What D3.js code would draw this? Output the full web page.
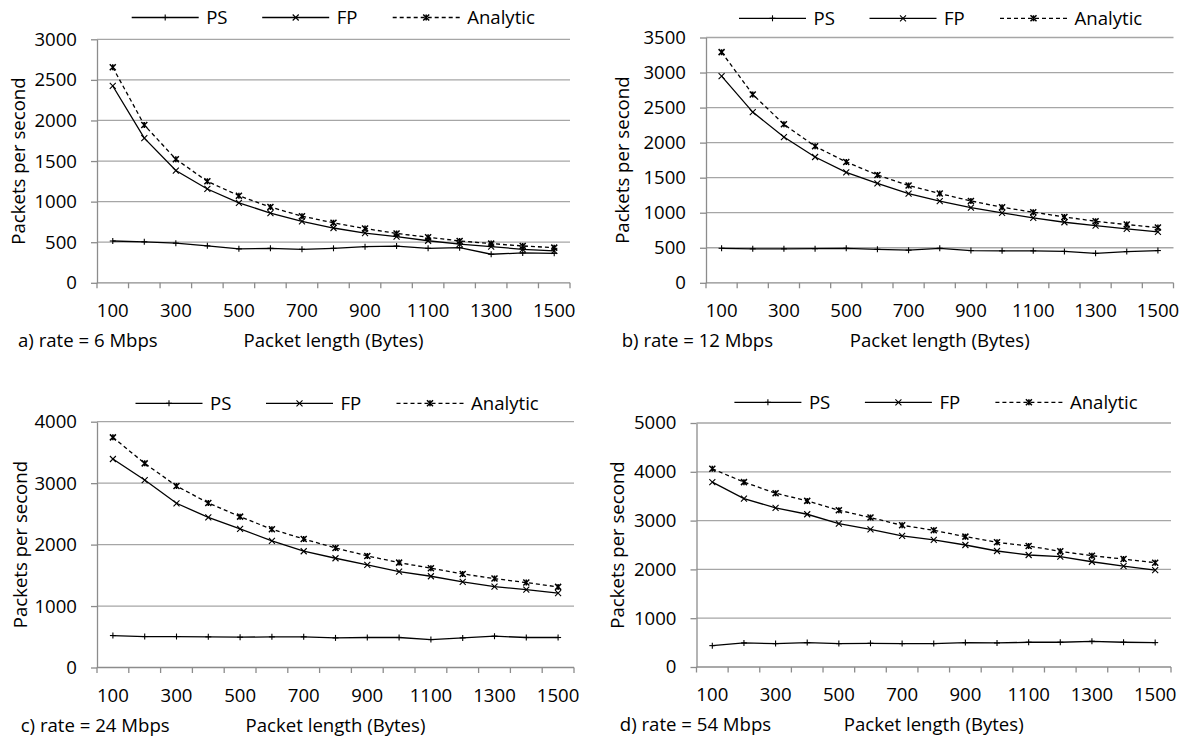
<!DOCTYPE html>
<html>
<head>
<meta charset="utf-8">
<script src="https://cdn.jsdelivr.net/npm/d3@7"></script>
<style>
  html, body { margin: 0; padding: 0; background: #fff; }
  svg { display: block; }
  text { font-family: "Open Sans", "Liberation Sans", sans-serif; fill: #000; }
</style>
</head>
<body>
<svg id="chart" width="1189" height="740"></svg>
<script>
// ---------- data ----------
const categories = [100, 200, 300, 400, 500, 600, 700, 800, 900, 1000, 1100, 1200, 1300, 1400, 1500];
const xTickLabels = [100, 300, 500, 700, 900, 1100, 1300, 1500];
const seriesNames = ["PS", "FP", "Analytic"];

const psA = [515, 505, 488, 455, 418, 425, 413, 425, 445, 452, 425, 433, 352, 368, 363];
const fpA = [2425, 1783, 1383, 1156, 986, 858, 757, 675, 612, 570, 518, 476, 446, 413, 393];
const anA = [2655, 1944, 1523, 1250, 1073, 933, 821, 739, 669, 608, 561, 516, 483, 454, 433];

const psB = [492, 485, 485, 487, 492, 478, 466, 492, 460, 456, 456, 448, 420, 446, 460];
const fpB = [2949, 2436, 2080, 1795, 1577, 1420, 1273, 1164, 1073, 997, 926, 864, 817, 770, 727];
const anB = [3291, 2688, 2261, 1947, 1724, 1539, 1387, 1273, 1168, 1078, 1007, 940, 878, 831, 788];

const psC = [520, 504, 504, 499, 493, 499, 499, 482, 488, 488, 455, 482, 509, 488, 488];
const fpC = [3393, 3051, 2672, 2444, 2255, 2060, 1892, 1778, 1669, 1561, 1485, 1393, 1317, 1268, 1209];
const anC = [3745, 3322, 2954, 2677, 2455, 2249, 2092, 1946, 1816, 1707, 1615, 1523, 1447, 1382, 1312];

const psD = [438, 493, 479, 500, 479, 486, 479, 479, 500, 493, 507, 507, 527, 507, 500];
const fpD = [3788, 3452, 3260, 3130, 2938, 2822, 2685, 2603, 2500, 2377, 2295, 2260, 2157, 2068, 1986];
const anD = [4062, 3788, 3562, 3404, 3212, 3062, 2904, 2801, 2671, 2555, 2479, 2370, 2281, 2212, 2137];

const yTicksA = [0, 500, 1000, 1500, 2000, 2500, 3000];
const yTicksB = [0, 500, 1000, 1500, 2000, 2500, 3000, 3500];
const yTicksC = [0, 1000, 2000, 3000, 4000];
const yTicksD = [0, 1000, 2000, 3000, 4000, 5000];

const captions = ["a) rate = 6 Mbps", "b) rate = 12 Mbps", "c) rate = 24 Mbps", "d) rate = 54 Mbps"];
const xTitle = "Packet length (Bytes)";
const yTitle = "Packets per second";

// ---------- layout ----------
const panels = [
  { ps: psA, fp: fpA, an: anA, ticks: yTicksA, caption: captions[0],
    left: 97, right: 570, top: 39.3, bottom: 282.8, capX: 18, yTitleX: 18, legX: 131.7, legY: 17.5 },
  { ps: psB, fp: fpB, an: anB, ticks: yTicksB, caption: captions[1],
    left: 706, right: 1173.5, top: 37.5, bottom: 282.8, capX: 621.7, yTitleX: 622.5, legX: 739, legY: 18.3 },
  { ps: psC, fp: fpC, an: anC, ticks: yTicksC, caption: captions[2],
    left: 97, right: 574, top: 421.7, bottom: 667.5, capX: 20.7, yTitleX: 20.7, legX: 135.5, legY: 403.3 },
  { ps: psD, fp: fpD, an: anD, ticks: yTicksD, caption: captions[3],
    left: 696.5, right: 1171, top: 423, bottom: 667, capX: 619.8, yTitleX: 617.7, legX: 734.4, legY: 402.3 }
];

const FONT = 18.6;
const GRID = "#a6a6a6";
const AXIS = "#8c8c8c";

const svg = d3.select("#chart");

function marker(g, type, cx, cy) {
  const s = 3;
  if (type === "PS") {
    g.append("line").attr("x1", cx).attr("x2", cx).attr("y1", cy - s).attr("y2", cy + s)
      .attr("stroke", "#000").attr("stroke-width", 1.1);
    g.append("line").attr("x1", cx - s).attr("x2", cx + s).attr("y1", cy).attr("y2", cy)
      .attr("stroke", "#000").attr("stroke-width", 1.1);
  } else if (type === "FP") {
    g.append("path").attr("d", `M${cx - s},${cy - s}L${cx + s},${cy + s}M${cx - s},${cy + s}L${cx + s},${cy - s}`)
      .attr("stroke", "#000").attr("stroke-width", 1.1).attr("fill", "none");
  } else {
    g.append("path").attr("d", `M${cx - s},${cy - s}L${cx + s},${cy + s}M${cx - s},${cy + s}L${cx + s},${cy - s}M${cx},${cy - s}L${cx},${cy + s}`)
      .attr("stroke", "#000").attr("stroke-width", 1.5).attr("fill", "none");
  }
}

panels.forEach(p => {
  const g = svg.append("g");
  const x = d3.scaleBand().domain(categories).range([p.left, p.right]).padding(0);
  const y = d3.scaleLinear().domain([0, d3.max(p.ticks)]).range([p.bottom, p.top]);
  const cx = c => x(c) + x.bandwidth() / 2;

  // gridlines
  g.append("g").selectAll("line").data(p.ticks.filter(t => t > 0)).join("line")
    .attr("x1", p.left).attr("x2", p.right)
    .attr("y1", d => y(d)).attr("y2", d => y(d))
    .attr("stroke", GRID).attr("stroke-width", 1.3);

  // y axis
  const ya = g.append("g").attr("transform", `translate(${p.left},0)`)
    .call(d3.axisLeft(y).tickValues(p.ticks).tickFormat(d3.format("d"))
      .tickSize(6).tickSizeOuter(0).tickPadding(14));
  ya.select(".domain").attr("stroke", AXIS).attr("stroke-width", 1.3);
  ya.selectAll(".tick line").attr("stroke", AXIS).attr("stroke-width", 1.3);
  ya.selectAll(".tick text").attr("font-size", FONT).attr("font-family", "Open Sans").attr("fill", "#000");

  // x axis
  const xa = g.append("g").attr("transform", `translate(0,${p.bottom})`)
    .call(d3.axisBottom(x).tickValues(xTickLabels).tickSize(0).tickPadding(21));
  xa.select(".domain").remove();
  xa.selectAll(".tick text").attr("font-size", FONT).attr("font-family", "Open Sans").attr("fill", "#000");
  g.append("line").attr("x1", p.left).attr("x2", p.right).attr("y1", p.bottom).attr("y2", p.bottom)
    .attr("stroke", AXIS).attr("stroke-width", 1.3);
  const bounds = categories.map(c => x(c)).concat([x.range()[1]]);
  g.append("g").selectAll("line").data(bounds).join("line")
    .attr("x1", d => d).attr("x2", d => d)
    .attr("y1", p.bottom).attr("y2", p.bottom + 5.5)
    .attr("stroke", AXIS).attr("stroke-width", 1.3);

  // series
  const series = [
    { name: "PS", values: p.ps, dash: null },
    { name: "FP", values: p.fp, dash: null },
    { name: "Analytic", values: p.an, dash: "4,3" }
  ];
  const line = d3.line().x(d => cx(d.c)).y(d => y(d.v));
  series.forEach(s => {
    const pts = categories.map((c, i) => ({ c, v: s.values[i] }));
    g.append("path").datum(pts).attr("d", line)
      .attr("fill", "none").attr("stroke", "#000").attr("stroke-width", 1.3)
      .attr("stroke-dasharray", s.dash);
    const mg = g.append("g");
    pts.forEach(d => marker(mg, s.name, cx(d.c), y(d.v)));
  });

  // legend
  series.forEach((s, i) => {
    const lx = p.legX + i * 130.5;
    g.append("line").attr("x1", lx).attr("x2", lx + 67).attr("y1", p.legY).attr("y2", p.legY)
      .attr("stroke", "#000").attr("stroke-width", 1.3).attr("stroke-dasharray", s.dash);
    marker(g, s.name, lx + 33.5, p.legY);
    g.append("text").attr("x", lx + 74.5).attr("y", p.legY).attr("dy", "0.35em")
      .attr("font-size", FONT).text(s.name);
  });

  // titles
  g.append("text").attr("x", (p.left + p.right) / 2).attr("y", p.bottom + 57.5).attr("dy", "0.35em")
    .attr("text-anchor", "middle").attr("font-size", FONT).text(xTitle);
  g.append("text").attr("x", p.capX).attr("y", p.bottom + 57.5).attr("dy", "0.35em")
    .attr("font-size", FONT).text(p.caption);
  g.append("text").attr("transform", `translate(${p.yTitleX},${(p.top + p.bottom) / 2}) rotate(-90)`)
    .attr("dy", "0.35em").attr("text-anchor", "middle").attr("font-size", FONT).text(yTitle);
});
</script>
</body>
</html>
